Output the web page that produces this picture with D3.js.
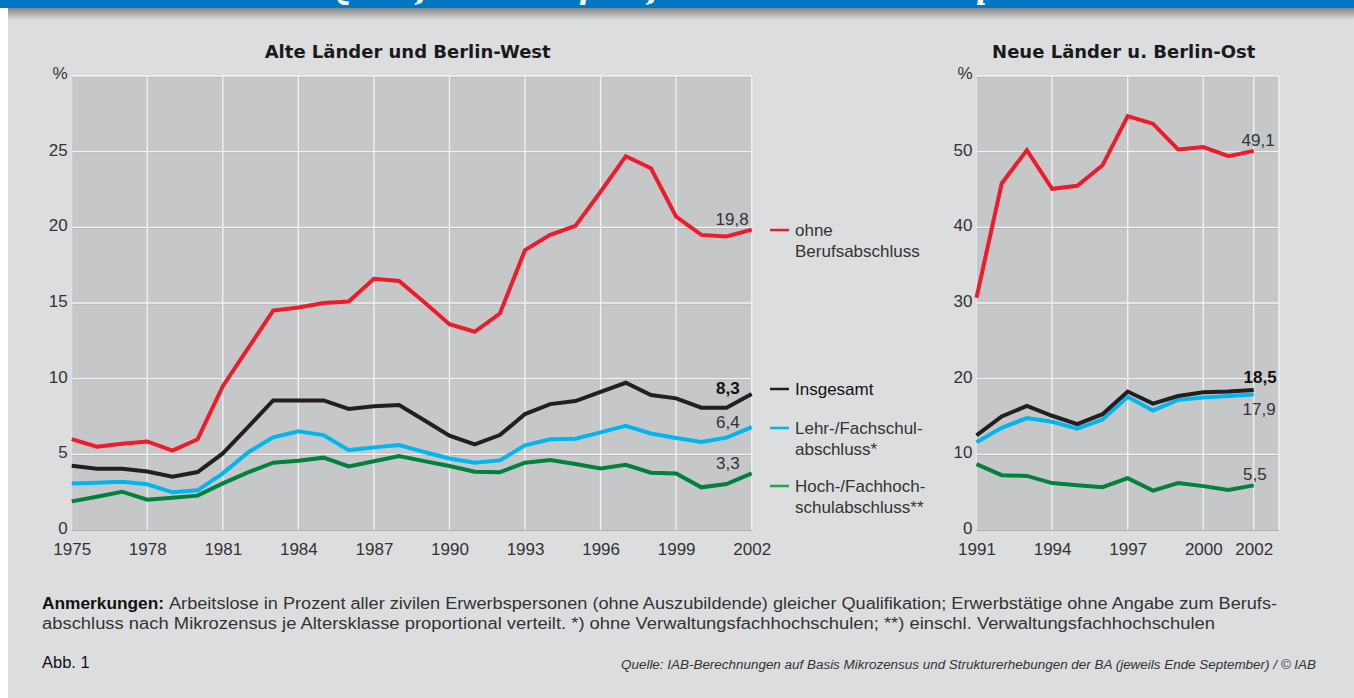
<!DOCTYPE html>
<html>
<head>
<meta charset="utf-8">
<script src="https://cdn.jsdelivr.net/npm/d3@7"></script>
<style>
  body { margin: 0; background: #dcdddf; }
  svg { display: block; }
  text { font-family: "Liberation Sans", Arial, sans-serif; }
</style>
</head>
<body>
<svg width="1354" height="698"></svg>
<script>
// --- data (arbeitslosenquoten in %) ---
const westYears = [1975, 1976, 1977, 1978, 1979, 1980, 1981, 1982, 1983, 1984, 1985, 1986, 1987, 1988,
  1989, 1990, 1991, 1992, 1993, 1994, 1995, 1996, 1997, 1998, 1999, 2000, 2001, 2002];
const westOhne = [6.0, 5.5, 5.7, 5.85, 5.25, 6.0, 9.5, 12.0, 14.5, 14.7, 15.0, 15.1, 16.6, 16.45,
  15.05, 13.6, 13.1, 14.3, 18.5, 19.5, 20.1, 22.35, 24.7, 23.9, 20.7, 19.5, 19.4, 19.85];
const westGesamt = [4.25, 4.05, 4.05, 3.87, 3.52, 3.83, 5.06, 6.8, 8.56, 8.56, 8.56, 8.0, 8.17, 8.26,
  7.25, 6.23, 5.66, 6.27, 7.66, 8.32, 8.52, 9.12, 9.73, 8.92, 8.7, 8.08, 8.08, 8.98];
const westLehr = [3.08, 3.13, 3.19, 3.02, 2.49, 2.62, 3.74, 5.13, 6.12, 6.52, 6.27, 5.28, 5.46, 5.61,
  5.15, 4.73, 4.45, 4.6, 5.59, 5.99, 6.03, 6.45, 6.89, 6.38, 6.08, 5.81, 6.1, 6.8];
const westHoch = [1.89, 2.2, 2.53, 2.0, 2.13, 2.27, 3.08, 3.81, 4.45, 4.58, 4.78, 4.2, 4.54, 4.89,
  4.55, 4.23, 3.85, 3.81, 4.45, 4.62, 4.36, 4.07, 4.31, 3.79, 3.74, 2.82, 3.04, 3.74];
const westLabels = ["19,8", "8,3", "6,4", "3,3"];

const eastYears = [1991, 1992, 1993, 1994, 1995, 1996, 1997, 1998, 1999, 2000, 2001, 2002];
const eastOhne = [30.7, 45.8, 50.2, 45.1, 45.5, 48.2, 54.7, 53.7, 50.3, 50.6, 49.4, 50.1];
const eastGesamt = [12.5, 15.0, 16.4, 15.1, 14.0, 15.3, 18.3, 16.7, 17.7, 18.2, 18.3, 18.5];
const eastLehr = [11.6, 13.5, 14.8, 14.3, 13.4, 14.6, 17.6, 15.8, 17.2, 17.5, 17.7, 17.9];
const eastHoch = [8.7, 7.25, 7.15, 6.2, 5.9, 5.65, 6.85, 5.2, 6.2, 5.8, 5.3, 5.9];
const eastLabels = ["49,1", "18,5", "17,9", "5,5"];

const westXTicks = [1975, 1978, 1981, 1984, 1987, 1990, 1993, 1996, 1999, 2002];
const westYTicks = [0, 5, 10, 15, 20, 25];
const eastXTicks = [1991, 1994, 1997, 2000, 2002];
const eastYTicks = [0, 10, 20, 30, 40, 50];

const seriesNames = ["ohne Berufsabschluss", "Insgesamt", "Lehr-/Fachschulabschluss*", "Hoch-/Fachhochschulabschluss**"];
const colors = ["#ec1c2b", "#231f20", "#00b6ee", "#00813c"];
const legendColors = ["#ec1c2b", "#231f20", "#00b6ee", "#1aa84b"];

const svg = d3.select("svg");

// header band (title of the page is cut off, only its descenders show)
svg.append("rect").attr("x", 0).attr("y", 0).attr("width", 1354).attr("height", 8).attr("fill", "#0077c1");
svg.append("clipPath").attr("id", "hdr").append("rect").attr("width", 1354).attr("height", 8);
svg.append("text")
  .attr("clip-path", "url(#hdr)")
  .attr("x", 326).attr("y", -1)
  .attr("fill", "#fff")
  .style("font-family", "'DejaVu Serif', serif")
  .style("font-style", "italic").style("font-weight", "bold")
  .style("font-size", "30px")
  .text("Qualifikationsspezifische Arbeitslosenquoten");

const grad = svg.append("defs").append("linearGradient")
  .attr("id", "shade").attr("x1", 0).attr("x2", 0).attr("y1", 0).attr("y2", 1);
grad.append("stop").attr("offset", "0%").attr("stop-color", "#858585");
grad.append("stop").attr("offset", "100%").attr("stop-color", "#dcdddf");
svg.append("rect").attr("x", 8).attr("y", 8).attr("width", 1346).attr("height", 12).attr("fill", "url(#shade)");
svg.append("rect").attr("x", 0).attr("y", 8).attr("width", 8).attr("height", 690).attr("fill", "#ffffff");

function drawPanel(cfg) {
  const x = d3.scaleLinear().domain(cfg.xDomain).range(cfg.xRange);
  const y = d3.scaleLinear().domain(cfg.yDomain).range([530, 76]);
  const g = svg.append("g");
  const [x0, x1] = cfg.xRange;

  g.append("rect")
    .attr("x", x0).attr("y", 76).attr("width", x1 - x0).attr("height", 530 - 76)
    .attr("fill", "#c6c7c9");

  // horizontal grid
  const hTicks = cfg.yTicks.filter(d => d > 0).concat([cfg.yDomain[1]]);
  g.selectAll(".hs").data(hTicks).enter().append("line")
    .attr("x1", x0).attr("x2", x1)
    .attr("y1", d => y(d) + 1).attr("y2", d => y(d) + 1)
    .attr("stroke", "#b3b4b6").attr("stroke-width", 1);
  g.selectAll(".hg").data(hTicks).enter().append("line")
    .attr("x1", x0).attr("x2", x1)
    .attr("y1", d => y(d)).attr("y2", d => y(d))
    .attr("stroke", "#f2f2f3").attr("stroke-width", 1.3);

  // vertical grid
  g.selectAll(".vg").data(cfg.vGrid).enter().append("line")
    .attr("x1", d => x(d)).attr("x2", d => x(d))
    .attr("y1", 76).attr("y2", 530)
    .attr("stroke", "#f2f2f3").attr("stroke-width", 1.3);
  g.append("line").attr("x1", x0).attr("x2", x0).attr("y1", 76).attr("y2", 530)
    .attr("stroke", "#e6e6e7").attr("stroke-width", 1);
  g.append("line").attr("x1", x0).attr("x2", x1).attr("y1", 530.5).attr("y2", 530.5)
    .attr("stroke", "#aeafb1").attr("stroke-width", 1);

  // axes (labels only)
  const yAxis = g.append("g")
    .attr("transform", `translate(${x0 - 4},-2)`)
    .call(d3.axisLeft(y).tickValues(cfg.yTicks).tickSize(0).tickPadding(0));
  const xAxis = g.append("g")
    .attr("transform", "translate(0,539)")
    .call(d3.axisBottom(x).tickValues(cfg.xTicks).tickSize(0).tickPadding(4).tickFormat(d3.format("d")));
  [yAxis, xAxis].forEach(a => {
    a.select(".domain").remove();
    a.selectAll("text")
      .style("font-family", "'Liberation Sans', Arial, sans-serif")
      .style("font-size", "17px")
      .attr("fill", "#333");
  });
  g.append("text")
    .attr("x", x0 - 4).attr("y", 79)
    .attr("text-anchor", "end")
    .attr("fill", "#333").style("font-size", "17px")
    .text("%");

  // title
  g.append("text")
    .attr("x", (x0 + x1) / 2 - 4).attr("y", 58)
    .attr("text-anchor", "middle")
    .attr("fill", "#1a1a1a")
    .style("font-family", "'DejaVu Sans', sans-serif")
    .style("font-weight", "bold").style("font-size", "18px")
    .text(cfg.title);

  // lines, drawn from bottom series up
  const line = d3.line().x((d, i) => x(cfg.years[i])).y(d => y(d));
  [3, 2, 1, 0].forEach(k => {
    g.append("path")
      .datum(cfg.series[k])
      .attr("d", line)
      .attr("fill", "none")
      .attr("stroke", colors[k])
      .attr("stroke-width", 4)
      .attr("stroke-linejoin", "miter");
  });

  // end value labels
  const last = cfg.years[cfg.years.length - 1];
  cfg.labels.forEach((lab, k) => {
    const s = cfg.series[k];
    g.append("text")
      .attr("x", x(last) + cfg.labelDx[k])
      .attr("y", y(s[s.length - 1]) + cfg.labelDy[k])
      .attr("text-anchor", "end")
      .attr("fill", k === 1 ? "#111" : "#333")
      .style("font-size", "17px")
      .style("font-weight", k === 1 ? "bold" : "normal")
      .text(lab);
  });
}

drawPanel({
  title: "Alte Länder und Berlin-West",
  years: westYears,
  series: [westOhne, westGesamt, westLehr, westHoch],
  labels: westLabels,
  labelDx: [-3, -12, -12, -12],
  labelDy: [-5, 0, 1, -4],
  xDomain: [1975, 2002], xRange: [71.7, 751.7],
  yDomain: [0, 30],
  xTicks: westXTicks, yTicks: westYTicks,
  vGrid: [1978, 1981, 1984, 1987, 1990, 1993, 1996, 1999, 2002]
});

drawPanel({
  title: "Neue Länder u. Berlin-Ost",
  years: eastYears,
  series: [eastOhne, eastGesamt, eastLehr, eastHoch],
  labels: eastLabels,
  labelDx: [21, 23, 22, 13],
  labelDy: [-5, -7, 20, -5],
  xDomain: [1991, 2003], xRange: [976.5, 1278.9],
  yDomain: [0, 60],
  xTicks: eastXTicks, yTicks: eastYTicks,
  vGrid: [1994, 1997, 2000, 2002, 2003]
});

// legend
const legendRows = [
  { y: 230, lines: ["ohne", "Berufsabschluss"] },
  { y: 389, lines: ["Insgesamt"] },
  { y: 428, lines: ["Lehr-/Fachschul-", "abschluss*"] },
  { y: 486, lines: ["Hoch-/Fachhoch-", "schulabschluss**"] }
];
const legend = svg.append("g");
legendRows.forEach((r, k) => {
  legend.append("line")
    .attr("x1", 770).attr("x2", 789).attr("y1", r.y).attr("y2", r.y)
    .attr("stroke", legendColors[k]).attr("stroke-width", 2.5);
  const t = legend.append("text")
    .attr("x", 795).attr("y", r.y + 6)
    .attr("fill", k === 1 ? "#111" : "#333")
    .style("font-size", "17px")
    .attr("aria-label", seriesNames[k]);
  r.lines.forEach((ln, j) => {
    t.append("tspan").attr("x", 795).attr("dy", j === 0 ? 0 : 21).text(ln);
  });
});

// footer
svg.append("text").attr("x", 42).attr("y", 609)
  .attr("fill", "#111").style("font-size", "16.5px").style("font-weight", "bold")
  .attr("textLength", 122).attr("lengthAdjust", "spacingAndGlyphs")
  .text("Anmerkungen:");
svg.append("text").attr("x", 169).attr("y", 609)
  .attr("fill", "#333").style("font-size", "16px")
  .attr("textLength", 1108).attr("lengthAdjust", "spacingAndGlyphs")
  .text("Arbeitslose in Prozent aller zivilen Erwerbspersonen (ohne Auszubildende) gleicher Qualifikation; Erwerbstätige ohne Angabe zum Berufs-");
svg.append("text").attr("x", 42).attr("y", 629)
  .attr("fill", "#333").style("font-size", "16px")
  .attr("textLength", 1173).attr("lengthAdjust", "spacingAndGlyphs")
  .text("abschluss nach Mikrozensus je Altersklasse proportional verteilt. *) ohne Verwaltungsfachhochschulen; **) einschl. Verwaltungsfachhochschulen");
svg.append("text").attr("x", 42).attr("y", 668)
  .attr("fill", "#111").style("font-size", "16.5px")
  .text("Abb. 1");
svg.append("text").attr("x", 1316).attr("y", 669)
  .attr("text-anchor", "end")
  .attr("fill", "#333").style("font-size", "12.5px").style("font-style", "italic")
  .attr("textLength", 695).attr("lengthAdjust", "spacingAndGlyphs")
  .text("Quelle: IAB-Berechnungen auf Basis Mikrozensus und Strukturerhebungen der BA (jeweils Ende September) / © IAB");
</script>
</body>
</html>
